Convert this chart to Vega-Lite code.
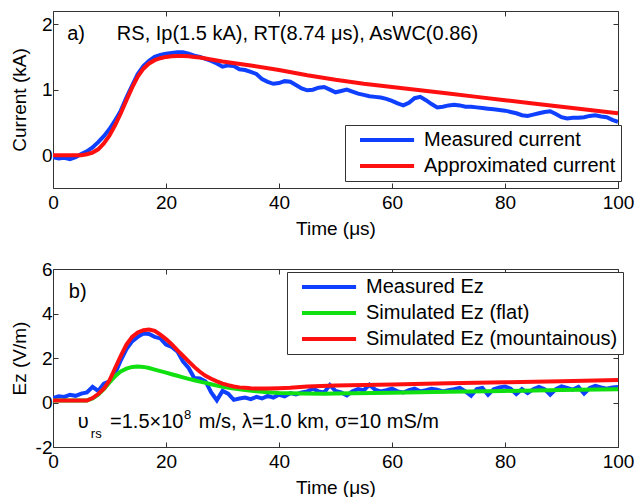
{
  "$schema": "https://vega.github.io/schema/vega-lite/v6.json",
  "padding": {"left": 9, "top": 10, "right": 5, "bottom": 5},
  "background": "white",
  "config": {
    "font": "Liberation Sans",
    "view": {"stroke": "#333", "strokeWidth": 1},
    "axis": {
      "domain": false, "grid": false, "tickSize": -5, "tickColor": "#333", "tickWidth": 1, "labelFlush": false,
      "labelFont": "Liberation Sans", "labelFontSize": 19, "labelColor": "black",
      "titleFont": "Liberation Sans", "titleFontSize": 19, "titleFontWeight": "normal", "titleColor": "black"
    },
    "axisX": {"labelPadding": 10, "titleBaseline": "top", "titleY": 31},
    "axisY": {"labelPadding": 6, "titleX": -24, "labelExpr": "replace(datum.label, '\u2212', '-')"},
    "legend": {
      "orient": "none", "title": null, "symbolType": "M0,0H10", "symbolSize": 117, "symbolStrokeWidth": 4,
      "labelFont": "Liberation Sans", "labelFontSize": 20, "labelColor": "black", "labelLimit": 500,
      "labelOffset": 54, "padding": 5, "rowPadding": 6, "strokeColor": "#333", "fillColor": "white", "cornerRadius": 0
    }
  },
  "datasets": {
    "current": [
      {"t":0,"v":-0.03,"s":"Measured current"},{"t":1,"v":-0.05,"s":"Measured current"},{"t":2,"v":-0.04,"s":"Measured current"},{"t":3,"v":-0.06,"s":"Measured current"},{"t":4,"v":-0.03,"s":"Measured current"},
      {"t":5,"v":0.02,"s":"Measured current"},{"t":6,"v":0.06,"s":"Measured current"},{"t":7,"v":0.12,"s":"Measured current"},{"t":8,"v":0.2,"s":"Measured current"},{"t":9,"v":0.29,"s":"Measured current"},
      {"t":10,"v":0.4,"s":"Measured current"},{"t":11,"v":0.53,"s":"Measured current"},{"t":12,"v":0.68,"s":"Measured current"},{"t":13,"v":0.88,"s":"Measured current"},{"t":14,"v":1.06,"s":"Measured current"},
      {"t":15,"v":1.24,"s":"Measured current"},{"t":16,"v":1.36,"s":"Measured current"},{"t":17,"v":1.44,"s":"Measured current"},{"t":18,"v":1.5,"s":"Measured current"},{"t":19,"v":1.53,"s":"Measured current"},
      {"t":20,"v":1.55,"s":"Measured current"},{"t":21,"v":1.56,"s":"Measured current"},{"t":22,"v":1.57,"s":"Measured current"},{"t":23,"v":1.57,"s":"Measured current"},{"t":24,"v":1.55,"s":"Measured current"},
      {"t":25,"v":1.52,"s":"Measured current"},{"t":26,"v":1.5,"s":"Measured current"},{"t":27,"v":1.47,"s":"Measured current"},{"t":28,"v":1.44,"s":"Measured current"},{"t":29,"v":1.4,"s":"Measured current"},
      {"t":30,"v":1.35,"s":"Measured current"},{"t":31,"v":1.37,"s":"Measured current"},{"t":32,"v":1.36,"s":"Measured current"},{"t":33,"v":1.31,"s":"Measured current"},{"t":34,"v":1.3,"s":"Measured current"},
      {"t":35,"v":1.27,"s":"Measured current"},{"t":36,"v":1.24,"s":"Measured current"},{"t":37,"v":1.16,"s":"Measured current"},{"t":38,"v":1.12,"s":"Measured current"},{"t":39,"v":1.09,"s":"Measured current"},
      {"t":40,"v":1.1,"s":"Measured current"},{"t":41,"v":1.13,"s":"Measured current"},{"t":42,"v":1.12,"s":"Measured current"},{"t":43,"v":1.07,"s":"Measured current"},{"t":44,"v":1.02,"s":"Measured current"},
      {"t":45,"v":0.99,"s":"Measured current"},{"t":46,"v":1.0,"s":"Measured current"},{"t":47,"v":1.03,"s":"Measured current"},{"t":48,"v":1.04,"s":"Measured current"},{"t":49,"v":1.0,"s":"Measured current"},
      {"t":50,"v":0.96,"s":"Measured current"},{"t":51,"v":0.98,"s":"Measured current"},{"t":52,"v":1.0,"s":"Measured current"},{"t":53,"v":0.97,"s":"Measured current"},{"t":54,"v":0.94,"s":"Measured current"},
      {"t":55,"v":0.92,"s":"Measured current"},{"t":56,"v":0.9,"s":"Measured current"},{"t":57,"v":0.89,"s":"Measured current"},{"t":58,"v":0.88,"s":"Measured current"},{"t":59,"v":0.86,"s":"Measured current"},
      {"t":60,"v":0.83,"s":"Measured current"},{"t":61,"v":0.79,"s":"Measured current"},{"t":62,"v":0.76,"s":"Measured current"},{"t":63,"v":0.8,"s":"Measured current"},{"t":64,"v":0.87,"s":"Measured current"},
      {"t":65,"v":0.89,"s":"Measured current"},{"t":66,"v":0.84,"s":"Measured current"},{"t":67,"v":0.78,"s":"Measured current"},{"t":68,"v":0.73,"s":"Measured current"},{"t":69,"v":0.74,"s":"Measured current"},
      {"t":70,"v":0.76,"s":"Measured current"},{"t":71,"v":0.77,"s":"Measured current"},{"t":72,"v":0.76,"s":"Measured current"},{"t":73,"v":0.74,"s":"Measured current"},{"t":74,"v":0.74,"s":"Measured current"},
      {"t":75,"v":0.73,"s":"Measured current"},{"t":76,"v":0.72,"s":"Measured current"},{"t":77,"v":0.71,"s":"Measured current"},{"t":78,"v":0.7,"s":"Measured current"},{"t":79,"v":0.69,"s":"Measured current"},
      {"t":80,"v":0.68,"s":"Measured current"},{"t":81,"v":0.66,"s":"Measured current"},{"t":82,"v":0.64,"s":"Measured current"},{"t":83,"v":0.61,"s":"Measured current"},{"t":84,"v":0.6,"s":"Measured current"},
      {"t":85,"v":0.62,"s":"Measured current"},{"t":86,"v":0.64,"s":"Measured current"},{"t":87,"v":0.66,"s":"Measured current"},{"t":88,"v":0.67,"s":"Measured current"},{"t":89,"v":0.63,"s":"Measured current"},
      {"t":90,"v":0.58,"s":"Measured current"},{"t":91,"v":0.56,"s":"Measured current"},{"t":92,"v":0.57,"s":"Measured current"},{"t":93,"v":0.57,"s":"Measured current"},{"t":94,"v":0.58,"s":"Measured current"},
      {"t":95,"v":0.6,"s":"Measured current"},{"t":96,"v":0.61,"s":"Measured current"},{"t":97,"v":0.59,"s":"Measured current"},{"t":98,"v":0.58,"s":"Measured current"},{"t":99,"v":0.54,"s":"Measured current"},
      {"t":100,"v":0.51,"s":"Measured current"},
      {"t":0,"v":0,"s":"Approximated current"},{"t":2,"v":0,"s":"Approximated current"},{"t":4,"v":0,"s":"Approximated current"},{"t":5,"v":0.0,"s":"Approximated current"},
      {"t":6,"v":0.015,"s":"Approximated current"},{"t":7,"v":0.04,"s":"Approximated current"},{"t":8,"v":0.09,"s":"Approximated current"},{"t":9,"v":0.18,"s":"Approximated current"},
      {"t":10,"v":0.3,"s":"Approximated current"},{"t":11,"v":0.46,"s":"Approximated current"},{"t":12,"v":0.64,"s":"Approximated current"},{"t":13,"v":0.84,"s":"Approximated current"},
      {"t":14,"v":1.03,"s":"Approximated current"},{"t":15,"v":1.2,"s":"Approximated current"},{"t":16,"v":1.32,"s":"Approximated current"},{"t":17,"v":1.4,"s":"Approximated current"},
      {"t":18,"v":1.45,"s":"Approximated current"},{"t":19,"v":1.48,"s":"Approximated current"},{"t":20,"v":1.5,"s":"Approximated current"},{"t":21,"v":1.51,"s":"Approximated current"},
      {"t":22,"v":1.515,"s":"Approximated current"},{"t":23,"v":1.515,"s":"Approximated current"},{"t":24,"v":1.51,"s":"Approximated current"},{"t":25,"v":1.5,"s":"Approximated current"},
      {"t":26,"v":1.49,"s":"Approximated current"},{"t":28,"v":1.46,"s":"Approximated current"},{"t":30,"v":1.43,"s":"Approximated current"},{"t":35,"v":1.37,"s":"Approximated current"},
      {"t":40,"v":1.3,"s":"Approximated current"},{"t":45,"v":1.22,"s":"Approximated current"},{"t":50,"v":1.15,"s":"Approximated current"},{"t":55,"v":1.09,"s":"Approximated current"},
      {"t":60,"v":1.04,"s":"Approximated current"},{"t":65,"v":0.99,"s":"Approximated current"},{"t":70,"v":0.94,"s":"Approximated current"},{"t":75,"v":0.89,"s":"Approximated current"},
      {"t":80,"v":0.84,"s":"Approximated current"},{"t":85,"v":0.79,"s":"Approximated current"},{"t":90,"v":0.74,"s":"Approximated current"},{"t":95,"v":0.69,"s":"Approximated current"},
      {"t":100,"v":0.64,"s":"Approximated current"}
    ],
    "ez": [
      {"t":0,"v":0.2,"s":"Measured Ez"},{"t":1,"v":0.28,"s":"Measured Ez"},{"t":2,"v":0.25,"s":"Measured Ez"},{"t":3,"v":0.35,"s":"Measured Ez"},{"t":4,"v":0.3,"s":"Measured Ez"},
      {"t":5,"v":0.4,"s":"Measured Ez"},{"t":6,"v":0.45,"s":"Measured Ez"},{"t":7,"v":0.7,"s":"Measured Ez"},{"t":8,"v":0.52,"s":"Measured Ez"},{"t":9,"v":0.85,"s":"Measured Ez"},
      {"t":10,"v":0.95,"s":"Measured Ez"},{"t":11,"v":1.3,"s":"Measured Ez"},{"t":12,"v":1.9,"s":"Measured Ez"},{"t":13,"v":2.4,"s":"Measured Ez"},{"t":14,"v":2.75,"s":"Measured Ez"},
      {"t":15,"v":2.95,"s":"Measured Ez"},{"t":16,"v":3.1,"s":"Measured Ez"},{"t":17,"v":3.08,"s":"Measured Ez"},{"t":18,"v":2.95,"s":"Measured Ez"},{"t":19,"v":2.88,"s":"Measured Ez"},
      {"t":20,"v":2.6,"s":"Measured Ez"},{"t":21,"v":2.5,"s":"Measured Ez"},{"t":22,"v":2.3,"s":"Measured Ez"},{"t":23,"v":1.85,"s":"Measured Ez"},{"t":24,"v":1.55,"s":"Measured Ez"},
      {"t":25,"v":1.1,"s":"Measured Ez"},{"t":26,"v":1.08,"s":"Measured Ez"},{"t":27,"v":0.95,"s":"Measured Ez"},{"t":28,"v":0.45,"s":"Measured Ez"},{"t":29,"v":0.1,"s":"Measured Ez"},
      {"t":30,"v":0.52,"s":"Measured Ez"},{"t":31,"v":0.4,"s":"Measured Ez"},{"t":32,"v":0.12,"s":"Measured Ez"},{"t":33,"v":0.18,"s":"Measured Ez"},{"t":34,"v":0.22,"s":"Measured Ez"},
      {"t":35,"v":0.15,"s":"Measured Ez"},{"t":36,"v":0.25,"s":"Measured Ez"},{"t":37,"v":0.18,"s":"Measured Ez"},{"t":38,"v":0.3,"s":"Measured Ez"},{"t":39,"v":0.22,"s":"Measured Ez"},
      {"t":40,"v":0.35,"s":"Measured Ez"},{"t":41,"v":0.28,"s":"Measured Ez"},{"t":42,"v":0.42,"s":"Measured Ez"},{"t":43,"v":0.36,"s":"Measured Ez"},{"t":44,"v":0.45,"s":"Measured Ez"},
      {"t":45,"v":0.5,"s":"Measured Ez"},{"t":46,"v":0.62,"s":"Measured Ez"},{"t":47,"v":0.5,"s":"Measured Ez"},{"t":48,"v":0.45,"s":"Measured Ez"},{"t":49,"v":0.78,"s":"Measured Ez"},
      {"t":50,"v":0.52,"s":"Measured Ez"},{"t":51,"v":0.45,"s":"Measured Ez"},{"t":52,"v":0.32,"s":"Measured Ez"},{"t":53,"v":0.5,"s":"Measured Ez"},{"t":54,"v":0.6,"s":"Measured Ez"},
      {"t":55,"v":0.55,"s":"Measured Ez"},{"t":56,"v":0.8,"s":"Measured Ez"},{"t":57,"v":0.58,"s":"Measured Ez"},{"t":58,"v":0.5,"s":"Measured Ez"},{"t":59,"v":0.55,"s":"Measured Ez"},
      {"t":60,"v":0.62,"s":"Measured Ez"},{"t":61,"v":0.5,"s":"Measured Ez"},{"t":62,"v":0.45,"s":"Measured Ez"},{"t":63,"v":0.55,"s":"Measured Ez"},{"t":64,"v":0.62,"s":"Measured Ez"},
      {"t":65,"v":0.5,"s":"Measured Ez"},{"t":66,"v":0.55,"s":"Measured Ez"},{"t":67,"v":0.62,"s":"Measured Ez"},{"t":68,"v":0.58,"s":"Measured Ez"},{"t":69,"v":0.5,"s":"Measured Ez"},
      {"t":70,"v":0.55,"s":"Measured Ez"},{"t":71,"v":0.6,"s":"Measured Ez"},{"t":72,"v":0.66,"s":"Measured Ez"},{"t":73,"v":0.5,"s":"Measured Ez"},{"t":74,"v":0.3,"s":"Measured Ez"},
      {"t":75,"v":0.6,"s":"Measured Ez"},{"t":76,"v":0.65,"s":"Measured Ez"},{"t":77,"v":0.35,"s":"Measured Ez"},{"t":78,"v":0.6,"s":"Measured Ez"},{"t":79,"v":0.68,"s":"Measured Ez"},
      {"t":80,"v":0.72,"s":"Measured Ez"},{"t":81,"v":0.62,"s":"Measured Ez"},{"t":82,"v":0.38,"s":"Measured Ez"},{"t":83,"v":0.6,"s":"Measured Ez"},{"t":84,"v":0.42,"s":"Measured Ez"},
      {"t":85,"v":0.6,"s":"Measured Ez"},{"t":86,"v":0.7,"s":"Measured Ez"},{"t":87,"v":0.6,"s":"Measured Ez"},{"t":88,"v":0.35,"s":"Measured Ez"},{"t":89,"v":0.6,"s":"Measured Ez"},
      {"t":90,"v":0.72,"s":"Measured Ez"},{"t":91,"v":0.65,"s":"Measured Ez"},{"t":92,"v":0.58,"s":"Measured Ez"},{"t":93,"v":0.7,"s":"Measured Ez"},{"t":94,"v":0.4,"s":"Measured Ez"},
      {"t":95,"v":0.65,"s":"Measured Ez"},{"t":96,"v":0.75,"s":"Measured Ez"},{"t":97,"v":0.68,"s":"Measured Ez"},{"t":98,"v":0.62,"s":"Measured Ez"},{"t":99,"v":0.68,"s":"Measured Ez"},
      {"t":100,"v":0.7,"s":"Measured Ez"},
      {"t":0,"v":0.09,"s":"Simulated Ez (flat)"},{"t":6,"v":0.09,"s":"Simulated Ez (flat)"},{"t":7,"v":0.18,"s":"Simulated Ez (flat)"},{"t":8,"v":0.35,"s":"Simulated Ez (flat)"},
      {"t":9,"v":0.6,"s":"Simulated Ez (flat)"},{"t":10,"v":0.9,"s":"Simulated Ez (flat)"},{"t":11,"v":1.18,"s":"Simulated Ez (flat)"},{"t":12,"v":1.4,"s":"Simulated Ez (flat)"},
      {"t":13,"v":1.52,"s":"Simulated Ez (flat)"},{"t":14,"v":1.6,"s":"Simulated Ez (flat)"},{"t":15,"v":1.62,"s":"Simulated Ez (flat)"},{"t":16,"v":1.6,"s":"Simulated Ez (flat)"},
      {"t":17,"v":1.55,"s":"Simulated Ez (flat)"},{"t":18,"v":1.48,"s":"Simulated Ez (flat)"},{"t":19,"v":1.41,"s":"Simulated Ez (flat)"},{"t":20,"v":1.34,"s":"Simulated Ez (flat)"},
      {"t":21,"v":1.27,"s":"Simulated Ez (flat)"},{"t":22,"v":1.2,"s":"Simulated Ez (flat)"},{"t":23,"v":1.13,"s":"Simulated Ez (flat)"},{"t":24,"v":1.06,"s":"Simulated Ez (flat)"},
      {"t":25,"v":1.0,"s":"Simulated Ez (flat)"},{"t":26,"v":0.94,"s":"Simulated Ez (flat)"},{"t":27,"v":0.88,"s":"Simulated Ez (flat)"},{"t":28,"v":0.82,"s":"Simulated Ez (flat)"},
      {"t":29,"v":0.76,"s":"Simulated Ez (flat)"},{"t":30,"v":0.71,"s":"Simulated Ez (flat)"},{"t":32,"v":0.63,"s":"Simulated Ez (flat)"},{"t":34,"v":0.56,"s":"Simulated Ez (flat)"},
      {"t":36,"v":0.5,"s":"Simulated Ez (flat)"},{"t":38,"v":0.46,"s":"Simulated Ez (flat)"},{"t":40,"v":0.43,"s":"Simulated Ez (flat)"},{"t":44,"v":0.4,"s":"Simulated Ez (flat)"},
      {"t":48,"v":0.39,"s":"Simulated Ez (flat)"},{"t":50,"v":0.4,"s":"Simulated Ez (flat)"},{"t":60,"v":0.44,"s":"Simulated Ez (flat)"},{"t":70,"v":0.48,"s":"Simulated Ez (flat)"},
      {"t":80,"v":0.52,"s":"Simulated Ez (flat)"},{"t":90,"v":0.56,"s":"Simulated Ez (flat)"},{"t":100,"v":0.6,"s":"Simulated Ez (flat)"},
      {"t":0,"v":0.09,"s":"Simulated Ez (mountainous)"},{"t":6,"v":0.09,"s":"Simulated Ez (mountainous)"},{"t":7,"v":0.2,"s":"Simulated Ez (mountainous)"},{"t":8,"v":0.38,"s":"Simulated Ez (mountainous)"},
      {"t":9,"v":0.62,"s":"Simulated Ez (mountainous)"},{"t":10,"v":1.0,"s":"Simulated Ez (mountainous)"},{"t":11,"v":1.55,"s":"Simulated Ez (mountainous)"},{"t":12,"v":2.1,"s":"Simulated Ez (mountainous)"},
      {"t":13,"v":2.6,"s":"Simulated Ez (mountainous)"},{"t":14,"v":2.95,"s":"Simulated Ez (mountainous)"},{"t":15,"v":3.15,"s":"Simulated Ez (mountainous)"},{"t":16,"v":3.25,"s":"Simulated Ez (mountainous)"},
      {"t":17,"v":3.28,"s":"Simulated Ez (mountainous)"},{"t":18,"v":3.22,"s":"Simulated Ez (mountainous)"},{"t":19,"v":3.05,"s":"Simulated Ez (mountainous)"},{"t":20,"v":2.85,"s":"Simulated Ez (mountainous)"},
      {"t":21,"v":2.62,"s":"Simulated Ez (mountainous)"},{"t":22,"v":2.35,"s":"Simulated Ez (mountainous)"},{"t":23,"v":2.1,"s":"Simulated Ez (mountainous)"},{"t":24,"v":1.85,"s":"Simulated Ez (mountainous)"},
      {"t":25,"v":1.6,"s":"Simulated Ez (mountainous)"},{"t":26,"v":1.38,"s":"Simulated Ez (mountainous)"},{"t":27,"v":1.2,"s":"Simulated Ez (mountainous)"},{"t":28,"v":1.07,"s":"Simulated Ez (mountainous)"},
      {"t":29,"v":0.95,"s":"Simulated Ez (mountainous)"},{"t":30,"v":0.85,"s":"Simulated Ez (mountainous)"},{"t":31,"v":0.78,"s":"Simulated Ez (mountainous)"},{"t":32,"v":0.72,"s":"Simulated Ez (mountainous)"},
      {"t":33,"v":0.68,"s":"Simulated Ez (mountainous)"},{"t":34,"v":0.66,"s":"Simulated Ez (mountainous)"},{"t":35,"v":0.64,"s":"Simulated Ez (mountainous)"},{"t":36,"v":0.63,"s":"Simulated Ez (mountainous)"},
      {"t":38,"v":0.63,"s":"Simulated Ez (mountainous)"},{"t":40,"v":0.64,"s":"Simulated Ez (mountainous)"},{"t":42,"v":0.66,"s":"Simulated Ez (mountainous)"},{"t":45,"v":0.72,"s":"Simulated Ez (mountainous)"},
      {"t":50,"v":0.76,"s":"Simulated Ez (mountainous)"},{"t":60,"v":0.81,"s":"Simulated Ez (mountainous)"},{"t":70,"v":0.86,"s":"Simulated Ez (mountainous)"},{"t":80,"v":0.91,"s":"Simulated Ez (mountainous)"},
      {"t":90,"v":0.96,"s":"Simulated Ez (mountainous)"},{"t":100,"v":1.01,"s":"Simulated Ez (mountainous)"}
    ],
    "annA": [
      {"t":2.5,"v":1.76,"label":"a)"},
      {"t":11.3,"v":1.76,"label":"RS, Ip(1.5 kA), RT(8.74 \u03bcs), AsWC(0.86)"}
    ],
    "annB": [
      {"t":2.8,"v":4.7,"label":"b)"},
      {"t":4.4,"v":-1.15,"label":"\u03c5"},
      {"t":10.1,"v":-1.15,"label":"=1.5\u00d710"},
      {"t":25.8,"v":-1.15,"label":"m/s, \u03bb=1.0 km, \u03c3=10 mS/m"}
    ],
    "annBsmall": [
      {"t":6.7,"v":-1.6,"label":"rs"},
      {"t":23.2,"v":-0.75,"label":"8"}
    ]
  },
  "spacing": 81,
  "bounds": "flush",
  "resolve": {"scale": {"color": "independent", "x": "independent", "y": "independent"}, "legend": {"color": "independent"}},
  "vconcat": [
    {
      "width": 565, "height": 177,
      "layer": [
        {
          "data": {"name": "current"},
          "mark": {"type": "line", "strokeWidth": 4, "clip": true},
          "encoding": {
            "x": {"field": "t", "type": "quantitative", "scale": {"domain": [0, 100], "nice": false, "zero": false}, "axis": {"orient": "bottom", "values": [0, 20, 40, 60, 80, 100], "title": "Time (\u03bcs)"}},
            "y": {"field": "v", "type": "quantitative", "scale": {"domain": [-0.5, 2.2], "nice": false, "zero": false}, "axis": {"orient": "left", "values": [0, 1, 2], "title": "Current (kA)"}},
            "color": {"field": "s", "type": "nominal", "scale": {"domain": ["Measured current", "Approximated current"], "range": ["#1040ff", "#ff1010"]}, "legend": {"legendX": 292, "legendY": 114}}
          }
        },
        {
          "data": {"name": "annA"},
          "mark": {"type": "text", "align": "left", "baseline": "alphabetic", "fontSize": 20, "font": "Liberation Sans", "color": "black"},
          "encoding": {
            "x": {"field": "t", "type": "quantitative", "scale": {"domain": [0, 100], "nice": false, "zero": false}, "axis": {"orient": "top", "values": [0, 20, 40, 60, 80, 100], "labels": false, "title": null}},
            "y": {"field": "v", "type": "quantitative", "scale": {"domain": [-0.5, 2.2], "nice": false, "zero": false}, "axis": {"orient": "right", "values": [0, 1, 2], "labels": false, "title": null}},
            "text": {"field": "label"}
          }
        }
      ],
      "resolve": {"axis": {"x": "independent", "y": "independent"}}
    },
    {
      "width": 565, "height": 178,
      "layer": [
        {
          "data": {"name": "ez"},
          "mark": {"type": "line", "strokeWidth": 4, "clip": true},
          "encoding": {
            "x": {"field": "t", "type": "quantitative", "scale": {"domain": [0, 100], "nice": false, "zero": false}, "axis": {"orient": "bottom", "values": [0, 20, 40, 60, 80, 100], "title": "Time (\u03bcs)"}},
            "y": {"field": "v", "type": "quantitative", "scale": {"domain": [-2, 6], "nice": false, "zero": false}, "axis": {"orient": "left", "values": [-2, 0, 2, 4, 6], "title": "Ez (V/m)"}},
            "color": {"field": "s", "type": "nominal", "scale": {"domain": ["Measured Ez", "Simulated Ez (flat)", "Simulated Ez (mountainous)"], "range": ["#1040ff", "#10e010", "#ff1010"]}, "legend": {"legendX": 234, "legendY": 3}}
          }
        },
        {
          "data": {"name": "annB"},
          "mark": {"type": "text", "align": "left", "baseline": "alphabetic", "fontSize": 20, "font": "Liberation Sans", "color": "black"},
          "encoding": {
            "x": {"field": "t", "type": "quantitative", "scale": {"domain": [0, 100], "nice": false, "zero": false}, "axis": {"orient": "top", "values": [0, 20, 40, 60, 80, 100], "labels": false, "title": null}},
            "y": {"field": "v", "type": "quantitative", "scale": {"domain": [-2, 6], "nice": false, "zero": false}, "axis": {"orient": "right", "values": [-2, 0, 2, 4, 6], "labels": false, "title": null}},
            "text": {"field": "label"}
          }
        },
        {
          "data": {"name": "annBsmall"},
          "mark": {"type": "text", "align": "left", "baseline": "alphabetic", "fontSize": 13, "font": "Liberation Sans", "color": "black"},
          "encoding": {
            "x": {"field": "t", "type": "quantitative", "scale": {"domain": [0, 100], "nice": false, "zero": false}, "axis": null},
            "y": {"field": "v", "type": "quantitative", "scale": {"domain": [-2, 6], "nice": false, "zero": false}, "axis": null},
            "text": {"field": "label"}
          }
        }
      ],
      "resolve": {"axis": {"x": "independent", "y": "independent"}}
    }
  ]
}
